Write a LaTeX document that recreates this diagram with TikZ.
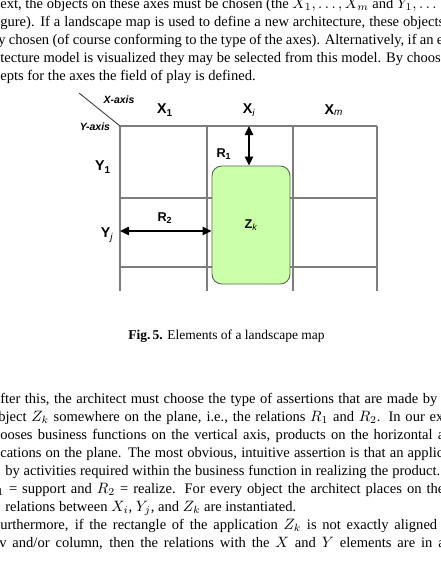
\documentclass[tikz,border=0pt]{standalone}
\usepackage{fontspec}
\setmainfont{Liberation Serif}
\newfontfamily\arialfont{Liberation Sans}
\usetikzlibrary{arrows.meta}
\definecolor{gridgray}{RGB}{125,125,125}
\definecolor{zfill}{RGB}{204,255,170}
\definecolor{zdraw}{RGB}{85,105,75}
\newcommand{\subit}[1]{\textsubscript{\mdseries\itshape #1}}
\newcommand{\subrm}[1]{\textsubscript{#1}}
\newcommand{\just}[2]{\makebox[#1][s]{#2}}
\begin{document}
\begin{tikzpicture}[x=0.666667pt,y=-0.666667pt,
  txt/.style={anchor=base west,inner sep=0pt,font=\fontsize{9.7}{12}\selectfont},
  captxt/.style={anchor=base,inner sep=0pt,font=\fontsize{9}{11}\selectfont},
  lbl/.style={inner sep=0pt,font=\arialfont\bfseries\fontsize{9.5}{11}\selectfont},
  rlbl/.style={inner sep=0pt,font=\arialfont\bfseries\fontsize{8.5}{10}\selectfont},
  axl/.style={inner sep=0pt,font=\arialfont\bfseries\itshape\fontsize{7}{8}\selectfont},
  gridline/.style={draw=gridgray,line width=0.7pt},
  zbox/.style={draw=zdraw,fill=zfill,line width=0.6pt,rounded corners=6.5pt,
    minimum width=52pt,minimum height=78.7pt,inner sep=0pt,
    font=\arialfont\bfseries\fontsize{8.5}{10}\selectfont},
  rel/.style={draw=black,line width=1.1pt,
    {Triangle[length=6pt,width=5.5pt]}-{Triangle[length=6pt,width=5.5pt]}}
]
\useasboundingbox (0,0) rectangle (441,579);
\clip (0,0) rectangle (441,579);
\fill[white] (0,0) rectangle (441,579);

% upper paragraph
\node[txt] (t1) at (0,8.5) {ext, the objects on these axes must be chosen (the $X_1, \ldots, X_m$ and $Y_1, \ldots$};
\node[txt] (t2) at (0,26.5) {\just{296pt}{gure). If a landscape map is used to define a new architecture, these objects}};
\node[txt] (t3) at (-2,44.5) {\just{296.7pt}{y chosen (of course conforming to the type of the axes). Alternatively, if an e}};
\node[txt] (t4) at (0,62.5) {tecture model is visualized they may be selected from this model. By choosing};
\node[txt] (t5) at (0,80.5) {epts for the axes the field of play is defined.};

% diagram grid
\coordinate (c0) at (120,126);
\coordinate (c1) at (207,126);
\coordinate (c2) at (293,126);
\coordinate (c3) at (377,126);
\coordinate (d0) at (120,291);
\coordinate (d1) at (207,291);
\coordinate (d2) at (293,291);
\coordinate (d3) at (377,291);
\coordinate (h1a) at (120,198);
\coordinate (h1b) at (377,198);
\coordinate (h2a) at (120,267);
\coordinate (h2b) at (377,267);
\coordinate (diag) at (79,93);
\draw[gridline] (c0) -- (c3);
\draw[gridline] (h1a) -- (h1b);
\draw[gridline] (h2a) -- (h2b);
\draw[gridline] (c0) -- (d0);
\draw[gridline] (c1) -- (d1);
\draw[gridline] (c2) -- (d2);
\draw[gridline] (c3) -- (d3);
\draw[draw=black!75,line width=0.6pt] (diag) -- (c0);

\node[axl] (xaxis) at (119,100) {X-axis};
\node[axl] (yaxis) at (95,127) {Y-axis};
\node[lbl] (x1) at (165,110) {X\subrm{1}};
\node[lbl] (xi) at (249,110) {X\subit{i}};
\node[lbl] (xm) at (334,110) {X\subit{m}};
\node[lbl] (y1) at (103,167) {Y\subrm{1}};
\node[lbl] (yj) at (107,235) {Y\subit{j}};

\node[zbox] (Z) at (251,225) {Z\subit{k}};
\coordinate (r1top) at (249,126);
\coordinate (r2left) at (120,231);
\draw[rel] (r1top) -- (r1top |- Z.north);
\draw[rel] (r2left) -- (r2left -| Z.west);
\node[rlbl] (r1) at (224,154) {R\subrm{1}};
\node[rlbl] (r2) at (165,218) {R\subrm{2}};

% caption
\node[captxt] (cap) at (226.5,339) {\textbf{Fig.\,5.} Elements of a landscape map};

% lower paragraph
\node[txt] (l1) at (0,403.5) {\just{291.3pt}{fter this, the architect must choose the type of assertions that are made by}};
\node[txt] (l2) at (-2,421.5) {\just{296.7pt}{bject $Z_k$ somewhere on the plane, i.e., the relations $R_1$ and $R_2$. In our ex}};
\node[txt] (l3) at (0,439.5) {\just{296pt}{ooses business functions on the vertical axis, products on the horizontal a}};
\node[txt] (l4) at (0,457.5) {\just{295.3pt}{cations on the plane. The most obvious, intuitive assertion is that an applic}};
\node[txt] (l5) at (5,475.5) {\just{290pt}{by activities required within the business function in realizing the product.}};
\node[txt] (l6) at (-3,493.5) {\just{298pt}{$_1$ = support and $R_2$ = realize. For every object the architect places on the}};
\node[txt] (l7) at (5,511.5) {relations between $X_i$, $Y_j$, and $Z_k$ are instantiated.};
\node[txt] (l8) at (0,529.5) {\just{291.3pt}{urthermore, if the rectangle of the application $Z_k$ is not exactly aligned}};
\node[txt] (l9) at (-1,547.5) {\just{297pt}{v and/or column, then the relations with the $X$ and $Y$ elements are in a}};
\end{tikzpicture}
\end{document}
